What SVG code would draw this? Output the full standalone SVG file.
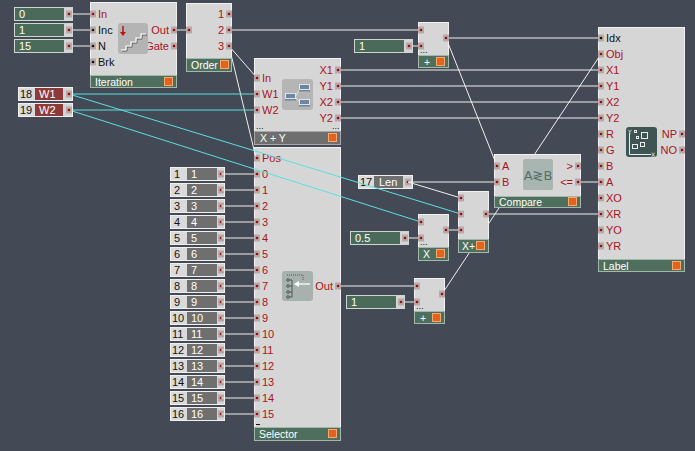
<svg xmlns="http://www.w3.org/2000/svg" width="695" height="451" viewBox="0 0 695 451">
<style>
.mb{fill:#d6d6d6;stroke:#f2f2f2;stroke-width:1}
.ft{fill:#4f6f5e;stroke:#a3b8ab;stroke-width:1}
.ftg{fill:#6e6e6e;stroke:#a8a8a8;stroke-width:1}
.bt{fill:#e2641c;stroke:#f6a870;stroke-width:1}
.pt{fill:#b8aaaa}
.dr{fill:#a00a0a}
.dk{fill:#111}
.lb{font-family:"Liberation Sans",Arial,sans-serif;font-size:11px;fill:#a8141c}
.lk{font-family:"Liberation Sans",Arial,sans-serif;font-size:11px;fill:#111}
.fx{font-family:"Liberation Sans",Arial,sans-serif;font-size:10.5px;fill:#fff}
.tw{font-family:"Liberation Sans",Arial,sans-serif;font-size:11px;fill:#fff}
.tb{font-family:"Liberation Sans",Arial,sans-serif;font-size:11px;fill:#111}
.dots{font-family:"Liberation Sans",Arial,sans-serif;font-size:9px;fill:#111}
.cbo{fill:#d4d4d4;stroke:#cfd6d1;stroke-width:1}
.cg{fill:#4b6b5a}
.nbo{fill:#d4d4d4;stroke:#f0f0f0;stroke-width:1}
.nl{fill:#dadada}
.nd{fill:#6f6f6f}
.nr{fill:#8f3a3a}
.w{stroke:#f0f0f0;stroke-width:1;fill:none}
.cy{stroke:#5ae0e0;stroke-width:1;fill:none}
</style>
<defs>
<g id="pr"><rect class="pt" x="-3" y="-3.5" width="6" height="7"/><circle class="dr" r="1.3"/></g>
<g id="pb"><rect class="pt" x="-3" y="-3.5" width="6" height="7"/><circle class="dk" r="1.3"/></g>
</defs>
<rect x="0" y="0" width="695" height="451" fill="#434a55"/>

<!-- Selector (drawn under wires) -->
<g id="n-selector">
<rect class="mb" x="254.5" y="147.5" width="86" height="293"/>
<rect class="ft" x="254.5" y="427.5" width="86" height="13"/>
<text class="fx" x="259" y="438">Selector</text>
<rect class="bt" x="328.5" y="429.5" width="8" height="8"/>
<use href="#pr" x="257" y="158"/><text class="lb" x="262" y="162">Pos</text>
<use href="#pr" x="257" y="174"/><text class="lb" x="262" y="178">0</text>
<use href="#pr" x="257" y="190"/><text class="lb" x="262" y="194">1</text>
<use href="#pr" x="257" y="206"/><text class="lb" x="262" y="210">2</text>
<use href="#pr" x="257" y="222"/><text class="lb" x="262" y="226">3</text>
<use href="#pr" x="257" y="238"/><text class="lb" x="262" y="242">4</text>
<use href="#pr" x="257" y="254"/><text class="lb" x="262" y="258">5</text>
<use href="#pr" x="257" y="270"/><text class="lb" x="262" y="274">6</text>
<use href="#pr" x="257" y="286"/><text class="lb" x="262" y="290">7</text>
<use href="#pr" x="257" y="302"/><text class="lb" x="262" y="306">8</text>
<use href="#pr" x="257" y="318"/><text class="lb" x="262" y="322">9</text>
<use href="#pr" x="257" y="334"/><text class="lb" x="262" y="338">10</text>
<use href="#pr" x="257" y="350"/><text class="lb" x="262" y="354">11</text>
<use href="#pr" x="257" y="366"/><text class="lb" x="262" y="370">12</text>
<use href="#pr" x="257" y="382"/><text class="lb" x="262" y="386">13</text>
<use href="#pr" x="257" y="398"/><text class="lb" x="262" y="402">14</text>
<use href="#pr" x="257" y="414"/><text class="lb" x="262" y="418">15</text>
<line x1="256" y1="424.5" x2="260" y2="424.5" stroke="#111" stroke-width="1"/>
<use href="#pr" x="338" y="286"/><text class="lb" x="333" y="290" text-anchor="end">Out</text>
<rect x="282" y="271" width="31" height="30" rx="3" fill="#a7b2ae"/>
<path d="M287,275 H303 V281" fill="none" stroke="#4a5a56" stroke-width="1" stroke-dasharray="1,1"/>
<path d="M292,280 V297 M289,280 H292 M289,286 H292 M289,292 H292 M289,297 H292" fill="none" stroke="#4a5a56" stroke-width="1"/>
<circle cx="288" cy="280" r="1.3" fill="none" stroke="#4a5a56"/>
<circle cx="288" cy="286" r="1.3" fill="none" stroke="#4a5a56"/>
<circle cx="288" cy="292" r="1.3" fill="none" stroke="#4a5a56"/>
<circle cx="288" cy="297" r="1.3" fill="none" stroke="#4a5a56"/>
<path d="M296,284 H310" stroke="#fff" stroke-width="1.3"/>
<polygon points="294,284 299,281 299,287" fill="#fff"/>
</g>

<!-- number constants -->
<g id="n-k1"><rect class="nbo" x="170.5" y="167.5" width="54" height="13"/><rect class="nl" x="171" y="168" width="16" height="12"/><rect class="nd" x="187" y="168" width="30" height="12"/><text class="tb" x="174" y="178">1</text><text class="tw" x="191" y="178">1</text><use href="#pr" x="221" y="174"/></g>
<g id="n-k2"><rect class="nbo" x="170.5" y="183.5" width="54" height="13"/><rect class="nl" x="171" y="184" width="16" height="12"/><rect class="nd" x="187" y="184" width="30" height="12"/><text class="tb" x="174" y="194">2</text><text class="tw" x="191" y="194">2</text><use href="#pr" x="221" y="190"/></g>
<g id="n-k3"><rect class="nbo" x="170.5" y="199.5" width="54" height="13"/><rect class="nl" x="171" y="200" width="16" height="12"/><rect class="nd" x="187" y="200" width="30" height="12"/><text class="tb" x="174" y="210">3</text><text class="tw" x="191" y="210">3</text><use href="#pr" x="221" y="206"/></g>
<g id="n-k4"><rect class="nbo" x="170.5" y="215.5" width="54" height="13"/><rect class="nl" x="171" y="216" width="16" height="12"/><rect class="nd" x="187" y="216" width="30" height="12"/><text class="tb" x="174" y="226">4</text><text class="tw" x="191" y="226">4</text><use href="#pr" x="221" y="222"/></g>
<g id="n-k5"><rect class="nbo" x="170.5" y="231.5" width="54" height="13"/><rect class="nl" x="171" y="232" width="16" height="12"/><rect class="nd" x="187" y="232" width="30" height="12"/><text class="tb" x="174" y="242">5</text><text class="tw" x="191" y="242">5</text><use href="#pr" x="221" y="238"/></g>
<g id="n-k6"><rect class="nbo" x="170.5" y="247.5" width="54" height="13"/><rect class="nl" x="171" y="248" width="16" height="12"/><rect class="nd" x="187" y="248" width="30" height="12"/><text class="tb" x="174" y="258">6</text><text class="tw" x="191" y="258">6</text><use href="#pr" x="221" y="254"/></g>
<g id="n-k7"><rect class="nbo" x="170.5" y="263.5" width="54" height="13"/><rect class="nl" x="171" y="264" width="16" height="12"/><rect class="nd" x="187" y="264" width="30" height="12"/><text class="tb" x="174" y="274">7</text><text class="tw" x="191" y="274">7</text><use href="#pr" x="221" y="270"/></g>
<g id="n-k8"><rect class="nbo" x="170.5" y="279.5" width="54" height="13"/><rect class="nl" x="171" y="280" width="16" height="12"/><rect class="nd" x="187" y="280" width="30" height="12"/><text class="tb" x="174" y="290">8</text><text class="tw" x="191" y="290">8</text><use href="#pr" x="221" y="286"/></g>
<g id="n-k9"><rect class="nbo" x="170.5" y="295.5" width="54" height="13"/><rect class="nl" x="171" y="296" width="16" height="12"/><rect class="nd" x="187" y="296" width="30" height="12"/><text class="tb" x="174" y="306">9</text><text class="tw" x="191" y="306">9</text><use href="#pr" x="221" y="302"/></g>
<g id="n-k10"><rect class="nbo" x="170.5" y="311.5" width="54" height="13"/><rect class="nl" x="171" y="312" width="16" height="12"/><rect class="nd" x="187" y="312" width="30" height="12"/><text class="tb" x="172" y="322">10</text><text class="tw" x="191" y="322">10</text><use href="#pr" x="221" y="318"/></g>
<g id="n-k11"><rect class="nbo" x="170.5" y="327.5" width="54" height="13"/><rect class="nl" x="171" y="328" width="16" height="12"/><rect class="nd" x="187" y="328" width="30" height="12"/><text class="tb" x="172" y="338">11</text><text class="tw" x="191" y="338">11</text><use href="#pr" x="221" y="334"/></g>
<g id="n-k12"><rect class="nbo" x="170.5" y="343.5" width="54" height="13"/><rect class="nl" x="171" y="344" width="16" height="12"/><rect class="nd" x="187" y="344" width="30" height="12"/><text class="tb" x="172" y="354">12</text><text class="tw" x="191" y="354">12</text><use href="#pr" x="221" y="350"/></g>
<g id="n-k13"><rect class="nbo" x="170.5" y="359.5" width="54" height="13"/><rect class="nl" x="171" y="360" width="16" height="12"/><rect class="nd" x="187" y="360" width="30" height="12"/><text class="tb" x="172" y="370">13</text><text class="tw" x="191" y="370">13</text><use href="#pr" x="221" y="366"/></g>
<g id="n-k14"><rect class="nbo" x="170.5" y="375.5" width="54" height="13"/><rect class="nl" x="171" y="376" width="16" height="12"/><rect class="nd" x="187" y="376" width="30" height="12"/><text class="tb" x="172" y="386">14</text><text class="tw" x="191" y="386">14</text><use href="#pr" x="221" y="382"/></g>
<g id="n-k15"><rect class="nbo" x="170.5" y="391.5" width="54" height="13"/><rect class="nl" x="171" y="392" width="16" height="12"/><rect class="nd" x="187" y="392" width="30" height="12"/><text class="tb" x="172" y="402">15</text><text class="tw" x="191" y="402">15</text><use href="#pr" x="221" y="398"/></g>
<g id="n-k16"><rect class="nbo" x="170.5" y="407.5" width="54" height="13"/><rect class="nl" x="171" y="408" width="16" height="12"/><rect class="nd" x="187" y="408" width="30" height="12"/><text class="tb" x="172" y="418">16</text><text class="tw" x="191" y="418">16</text><use href="#pr" x="221" y="414"/></g>

<g id="n-len"><rect class="nbo" x="358.5" y="175.5" width="54" height="13"/><rect class="nl" x="359" y="176" width="15" height="12"/><rect class="nd" x="374" y="176" width="29" height="12"/><text class="tb" x="360" y="186">17</text><text class="tw" x="379" y="186">Len</text><use href="#pr" x="408" y="182"/></g>

<!-- connectors -->
<g id="connectors">
<path class="w" d="M69,14 H93 M69,30 H93 M69,46 H93"/>
<path class="w" d="M174,30 H189"/>
<path class="w" d="M229,30 H421"/>
<path class="w" d="M229,46 L257,78"/>
<path class="w" d="M229,46 L255.5,156"/>
<path class="w" d="M409,46 H421"/>
<path class="w" d="M446,38 H601"/>
<path class="w" d="M446,38 L497,166"/>
<path class="w" d="M338,70 H601 M338,86 H601 M338,102 H601 M338,118 H601"/>
<path class="w" d="M221,174 H254 M221,190 H254 M221,206 H254 M221,222 H254 M221,238 H254 M221,254 H254 M221,270 H254 M221,286 H254 M221,302 H254 M221,318 H254 M221,334 H254 M221,350 H254 M221,366 H254 M221,382 H254 M221,398 H254 M221,414 H254"/>
<path class="w" d="M408,182 H497"/>
<path class="w" d="M408,182 L461,198"/>
<path class="w" d="M578,182 H601"/>
<path class="w" d="M405,238 H421"/>
<path class="w" d="M446,230 H461"/>
<path class="w" d="M486,214 H601"/>
<path class="w" d="M341,286 H417"/>
<path class="w" d="M401,302 H417"/>
<path class="w" d="M442,294 L601,54"/>
<path class="cy" d="M69,94 H257"/>
<path class="cy" d="M69,94 L461,214"/>
<path class="cy" d="M69,110 H257"/>
<path class="cy" d="M69,110 L421,222"/>
</g>

<!-- constants top-left -->
<g id="n-c0"><rect class="cbo" x="14.5" y="7.5" width="58" height="13"/><rect class="cg" x="15" y="8" width="49" height="12"/><text class="tw" x="19" y="18">0</text><use href="#pr" x="69" y="14"/></g>
<g id="n-c1"><rect class="cbo" x="14.5" y="23.5" width="58" height="13"/><rect class="cg" x="15" y="24" width="49" height="12"/><text class="tw" x="19" y="34">1</text><use href="#pr" x="69" y="30"/></g>
<g id="n-c15"><rect class="cbo" x="14.5" y="39.5" width="58" height="13"/><rect class="cg" x="15" y="40" width="49" height="12"/><text class="tw" x="19" y="50">15</text><use href="#pr" x="69" y="46"/></g>

<g id="n-iteration">
<rect class="mb" x="90.5" y="2.5" width="86" height="85"/>
<rect class="ft" x="90.5" y="75.5" width="86" height="12"/>
<text class="fx" x="95" y="86">Iteration</text>
<rect class="bt" x="164.5" y="77.5" width="8" height="8"/>
<use href="#pr" x="93" y="14"/><text class="lb" x="98" y="18">In</text>
<use href="#pb" x="93" y="30"/><text class="lk" x="98" y="34">Inc</text>
<use href="#pb" x="93" y="46"/><text class="lk" x="98" y="50">N</text>
<use href="#pb" x="93" y="62"/><text class="lk" x="98" y="66">Brk</text>
<use href="#pr" x="174" y="30"/><text class="lb" x="169" y="34" text-anchor="end">Out</text>
<use href="#pr" x="174" y="46"/><text class="lb" x="169" y="50" text-anchor="end">Gate</text>
<rect x="118" y="23" width="30" height="31" rx="3" fill="#b4b4b4"/>
<path d="M123,26 V33" stroke="#c01010" stroke-width="1.5"/>
<polygon points="120,32 126,32 123,36" fill="#c01010"/>
<polyline points="122,51 127,51 127,47 132,47 132,43 137,43 137,39 142,39 142,35 147,35" fill="none" stroke="#555" stroke-width="1"/>
<polyline points="121,50 126,50 126,46 131,46 131,42 136,42 136,38 141,38 141,34 146,34" fill="none" stroke="#fff" stroke-width="1.2"/>
</g>

<g id="n-order">
<rect class="mb" x="186.5" y="3.5" width="45" height="68"/>
<rect class="ft" x="186.5" y="58.5" width="45" height="13"/>
<text class="fx" x="191" y="69">Order</text>
<rect class="bt" x="220.5" y="60.5" width="8" height="8"/>
<use href="#pr" x="189" y="30"/>
<use href="#pr" x="229" y="14"/><text class="lb" x="224" y="18" text-anchor="end">1</text>
<use href="#pr" x="229" y="30"/><text class="lb" x="224" y="34" text-anchor="end">2</text>
<use href="#pr" x="229" y="46"/><text class="lb" x="224" y="50" text-anchor="end">3</text>
</g>

<g id="n-const1a"><rect class="cbo" x="354.5" y="39.5" width="58" height="13"/><rect class="cg" x="355" y="40" width="49" height="12"/><text class="tw" x="359" y="50">1</text><use href="#pr" x="409" y="46"/></g>

<g id="n-add1">
<rect class="mb" x="418.5" y="22.5" width="30" height="45"/>
<rect class="ft" x="418.5" y="55.5" width="30" height="12"/>
<text class="fx" x="424" y="66">+</text>
<rect class="bt" x="436.5" y="57.5" width="8" height="8"/>
<use href="#pr" x="421" y="30"/>
<use href="#pr" x="421" y="46"/>
<use href="#pr" x="446" y="38"/>
<text class="dots" x="420" y="53">...</text>
</g>

<g id="n-xy">
<rect class="mb" x="254.5" y="58.5" width="86" height="86"/>
<rect class="ftg" x="254.5" y="131.5" width="86" height="13"/>
<text class="fx" x="260" y="142">X + Y</text>
<rect class="bt" x="328.5" y="133.5" width="8" height="8"/>
<use href="#pr" x="257" y="78"/><text class="lb" x="262" y="82">In</text>
<use href="#pr" x="257" y="94"/><text class="lb" x="262" y="98">W1</text>
<use href="#pr" x="257" y="110"/><text class="lb" x="262" y="114">W2</text>
<use href="#pr" x="338" y="70"/><text class="lb" x="333" y="74" text-anchor="end">X1</text>
<use href="#pr" x="338" y="86"/><text class="lb" x="333" y="90" text-anchor="end">Y1</text>
<use href="#pr" x="338" y="102"/><text class="lb" x="333" y="106" text-anchor="end">X2</text>
<use href="#pr" x="338" y="118"/><text class="lb" x="333" y="122" text-anchor="end">Y2</text>
<text class="dots" x="256" y="129">...</text>
<text class="dots" x="332" y="129">...</text>
<rect x="282" y="79" width="31" height="31" rx="3" fill="#b5b5b5"/>
<path d="M295,97 L300,89 M295,97 L300,102" stroke="#e8e8e8" stroke-width="1"/>
<rect x="285.5" y="93.5" width="10" height="5" fill="#6f86a0" stroke="#dde4ea"/>
<rect x="299.5" y="84.5" width="10" height="5" fill="#6f86a0" stroke="#dde4ea"/>
<rect x="299.5" y="99.5" width="10" height="5" fill="#6f86a0" stroke="#dde4ea"/>
<rect x="285" y="99" width="11" height="1.5" fill="#6f86a0"/>
<rect x="299" y="90" width="11" height="1.5" fill="#6f86a0"/>
<rect x="299" y="105" width="11" height="1.5" fill="#6f86a0"/>
</g>

<g id="n-w1"><rect class="nbo" x="18.5" y="87.5" width="54" height="13"/><rect class="nl" x="19" y="88" width="16" height="12"/><rect class="nr" x="35" y="88" width="28" height="12"/><text class="tb" x="20" y="98">18</text><text class="tw" x="39" y="98">W1</text><use href="#pr" x="69" y="94"/></g>
<g id="n-w2"><rect class="nbo" x="18.5" y="103.5" width="54" height="13"/><rect class="nl" x="19" y="104" width="16" height="12"/><rect class="nr" x="35" y="104" width="28" height="12"/><text class="tb" x="20" y="114">19</text><text class="tw" x="39" y="114">W2</text><use href="#pr" x="69" y="110"/></g>

<g id="n-compare">
<rect class="mb" x="494.5" y="154.5" width="86" height="53"/>
<rect class="ft" x="494.5" y="196.5" width="86" height="11"/>
<text class="fx" x="499" y="206">Compare</text>
<rect class="bt" x="568.5" y="197.5" width="8" height="8"/>
<use href="#pr" x="497" y="166"/><text class="lb" x="502" y="170">A</text>
<use href="#pr" x="497" y="182"/><text class="lb" x="502" y="186">B</text>
<use href="#pr" x="578" y="166"/><text class="lb" x="573" y="170" text-anchor="end">&gt;</text>
<use href="#pr" x="578" y="182"/><text class="lb" x="573" y="186" text-anchor="end">&lt;=</text>
<rect x="523" y="159" width="30" height="31" rx="2" fill="#a8b5b1"/>
<text x="538" y="180" text-anchor="middle" font-family="'DejaVu Sans',sans-serif" font-size="13" fill="#557068">A≷B</text>
</g>

<g id="n-c05"><rect class="cbo" x="350.5" y="231.5" width="58" height="13"/><rect class="cg" x="351" y="232" width="49" height="12"/><text class="tw" x="355" y="242">0.5</text><use href="#pr" x="405" y="238"/></g>

<g id="n-mul">
<rect class="mb" x="418.5" y="214.5" width="30" height="46"/>
<rect class="ft" x="418.5" y="247.5" width="30" height="13"/>
<text class="fx" x="423" y="258">X</text>
<rect class="bt" x="436.5" y="249.5" width="8" height="8"/>
<use href="#pr" x="421" y="222"/>
<use href="#pr" x="421" y="238"/>
<use href="#pr" x="446" y="230"/>
<text class="dots" x="420" y="245">...</text>
</g>

<g id="n-xadd">
<rect class="mb" x="458.5" y="191.5" width="30" height="61"/>
<rect class="ft" x="458.5" y="239.5" width="30" height="13"/>
<text class="fx" x="462" y="250">X+</text>
<rect class="bt" x="476.5" y="241.5" width="8" height="8"/>
<use href="#pr" x="461" y="198"/>
<use href="#pr" x="461" y="214"/>
<use href="#pr" x="461" y="230"/>
<use href="#pr" x="486" y="214"/>
</g>

<g id="n-const1b"><rect class="cbo" x="346.5" y="295.5" width="58" height="13"/><rect class="cg" x="347" y="296" width="49" height="12"/><text class="tw" x="351" y="306">1</text><use href="#pr" x="401" y="302"/></g>

<g id="n-add2">
<rect class="mb" x="414.5" y="278.5" width="30" height="45"/>
<rect class="ft" x="414.5" y="311.5" width="30" height="12"/>
<text class="fx" x="420" y="322">+</text>
<rect class="bt" x="432.5" y="313.5" width="8" height="8"/>
<use href="#pr" x="417" y="286"/>
<use href="#pr" x="417" y="302"/>
<use href="#pr" x="442" y="294"/>
<text class="dots" x="416" y="309">...</text>
</g>

<g id="n-label">
<rect class="mb" x="598.5" y="27.5" width="86" height="244"/>
<rect class="ft" x="598.5" y="259.5" width="86" height="12"/>
<text class="fx" x="603" y="270">Label</text>
<rect class="bt" x="672.5" y="261.5" width="8" height="8"/>
<use href="#pb" x="601" y="38"/><text class="lk" x="606" y="42">Idx</text>
<use href="#pr" x="601" y="54"/><text class="lb" x="606" y="58">Obj</text>
<use href="#pr" x="601" y="70"/><text class="lb" x="606" y="74">X1</text>
<use href="#pr" x="601" y="86"/><text class="lb" x="606" y="90">Y1</text>
<use href="#pr" x="601" y="102"/><text class="lb" x="606" y="106">X2</text>
<use href="#pr" x="601" y="118"/><text class="lb" x="606" y="122">Y2</text>
<use href="#pr" x="601" y="134"/><text class="lb" x="606" y="138">R</text>
<use href="#pr" x="601" y="150"/><text class="lb" x="606" y="154">G</text>
<use href="#pr" x="601" y="166"/><text class="lb" x="606" y="170">B</text>
<use href="#pr" x="601" y="182"/><text class="lb" x="606" y="186">A</text>
<use href="#pr" x="601" y="198"/><text class="lb" x="606" y="202">XO</text>
<use href="#pr" x="601" y="214"/><text class="lb" x="606" y="218">XR</text>
<use href="#pr" x="601" y="230"/><text class="lb" x="606" y="234">YO</text>
<use href="#pr" x="601" y="246"/><text class="lb" x="606" y="250">YR</text>
<use href="#pr" x="682" y="134"/><text class="lb" x="677" y="138" text-anchor="end">NP</text>
<use href="#pr" x="682" y="150"/><text class="lb" x="677" y="154" text-anchor="end">NO</text>
<rect x="626" y="127" width="31" height="30" rx="3" fill="#3f5553"/>
<path d="M629.5,133 V154.5 H651" fill="none" stroke="#e8ecea" stroke-width="1"/>
<text x="628" y="134" font-family="'DejaVu Sans',sans-serif" font-size="6" fill="#e8ecea">Y</text>
<text x="651" y="157" font-family="'DejaVu Sans',sans-serif" font-size="6" fill="#e8ecea">X</text>
<rect x="634.5" y="130.5" width="2" height="2" fill="none" stroke="#e8ecea"/>
<rect x="641.5" y="132.5" width="6" height="6" fill="none" stroke="#e8ecea"/>
<rect x="636.5" y="136.5" width="2" height="2" fill="none" stroke="#e8ecea"/>
<rect x="632.5" y="144.5" width="5" height="4" fill="none" stroke="#e8ecea"/>
<rect x="640.5" y="142.5" width="4" height="4" fill="none" stroke="#e8ecea"/>
</g>
</svg>
